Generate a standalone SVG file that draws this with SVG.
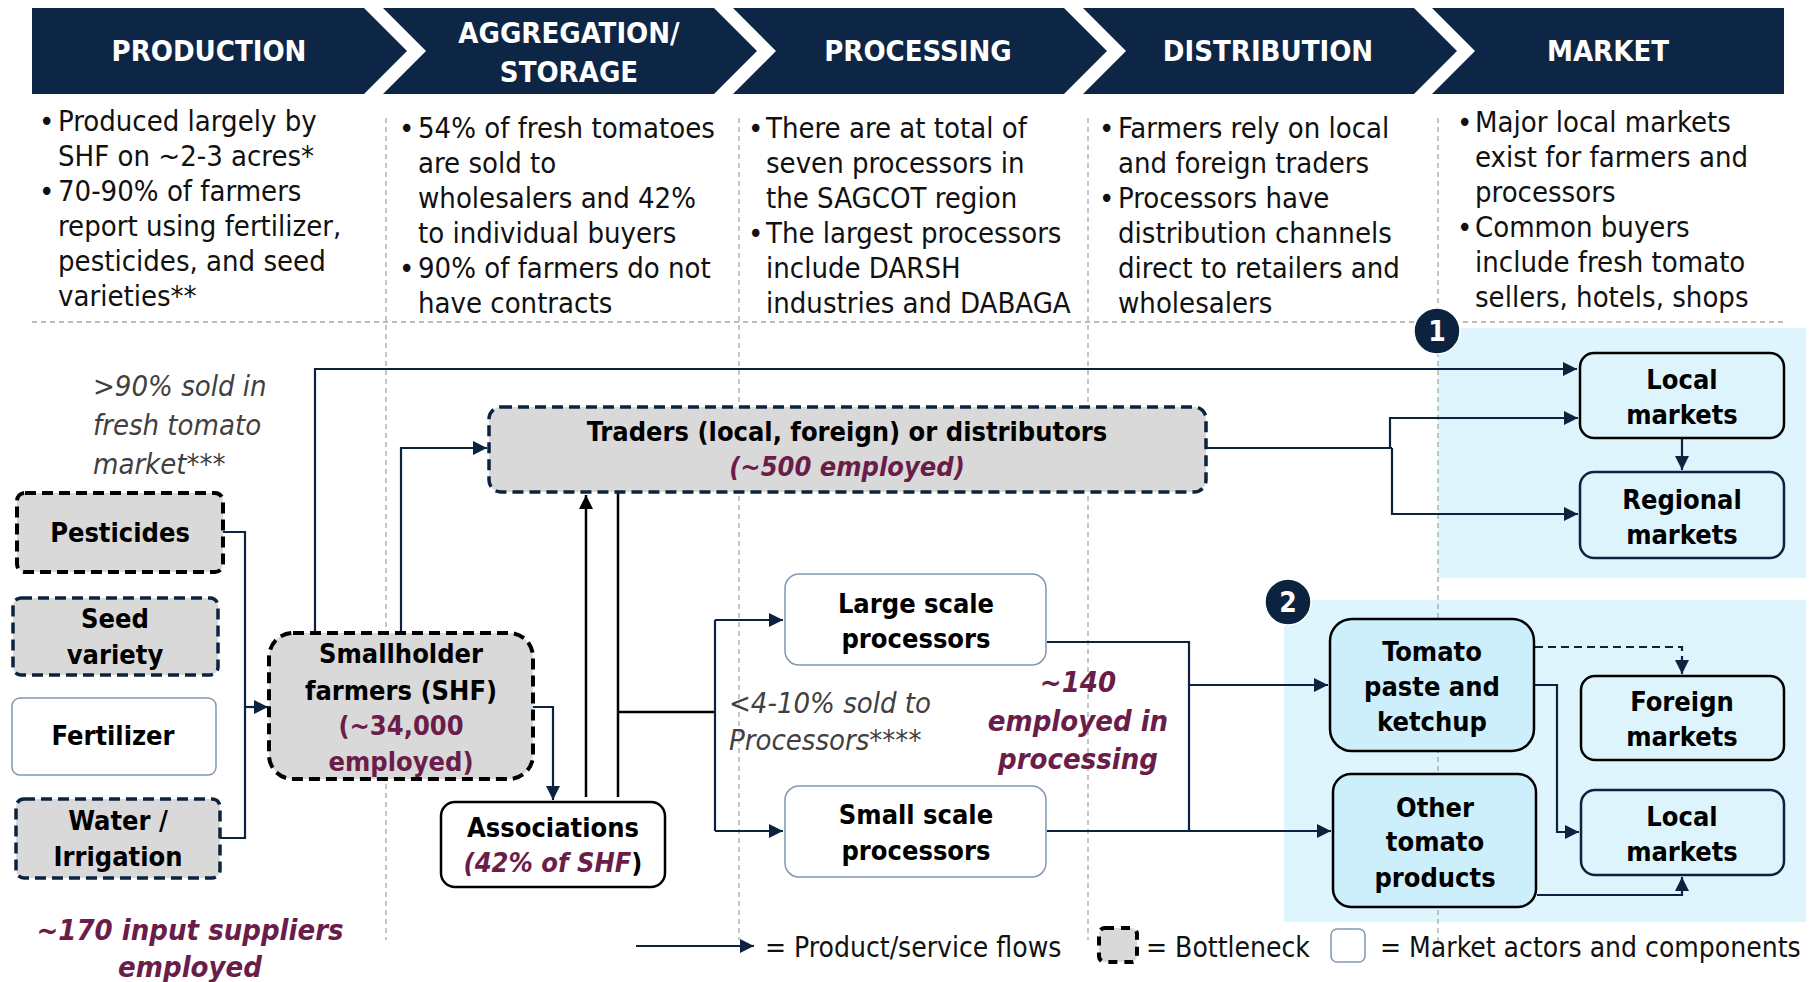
<svg xmlns="http://www.w3.org/2000/svg" width="1820" height="982" viewBox="0 0 1820 982">
<defs>
<style>
text{font-family:'DejaVu Sans Condensed','Liberation Sans',sans-serif;}
.hd{fill:#0e2645;}
.ht{fill:#fff;font-weight:bold;font-size:29px;text-anchor:middle;}
.bt{fill:#111;font-size:29px;}
.lg{fill:#111;font-size:28px;}
.sep{stroke:#a6a6a6;stroke-width:1.3;stroke-dasharray:5 4;fill:none;}
.lbl{fill:#000;font-weight:bold;font-size:27px;text-anchor:middle;}
.mar{fill:#6b1d4a;}
.note{fill:#404040;font-style:italic;font-size:29px;}
.mnote{fill:#6b1d4a;font-style:italic;font-weight:bold;font-size:29px;text-anchor:middle;}
.bneck{fill:#d9d9d9;stroke:#000;stroke-width:4;stroke-dasharray:11 6;}
.ndash{fill:#d9d9d9;stroke:#0c2340;stroke-width:3.5;stroke-dasharray:11 6;}
.thin{fill:#fff;stroke:#8497b0;stroke-width:1.5;}
.mk{fill:#ddf4fd;stroke:#000;stroke-width:2.5;}
.mkn{fill:#ddf4fd;stroke:#0c2340;stroke-width:2.5;}
.mkd{fill:#cdeefb;stroke:#000;stroke-width:2.5;}
.c{fill:none;stroke:#0c2340;stroke-width:2.2;}
.cb{fill:none;stroke:#000;stroke-width:2.5;}
.region{fill:#def5fd;}
.num{fill:#0c2340;stroke:#fff;stroke-width:1.5;}
.numt{fill:#fff;font-weight:bold;font-size:28px;text-anchor:middle;}
</style>
<marker id="ar" viewBox="0 0 10 10" refX="10" refY="5" markerUnits="userSpaceOnUse" markerWidth="15" markerHeight="14" orient="auto"><path d="M0,0 L10,5 L0,10 z" fill="#0c2340"/></marker>
<marker id="arb" viewBox="0 0 10 10" refX="10" refY="5" markerUnits="userSpaceOnUse" markerWidth="15" markerHeight="14" orient="auto"><path d="M0,0 L10,5 L0,10 z" fill="#000"/></marker>
</defs>
<rect width="1820" height="982" fill="#fff"/>

<!-- Regions -->
<rect class="region" x="1438" y="328" width="368" height="250"/>
<rect class="region" x="1284" y="600" width="522" height="322"/>

<!-- Header chevrons -->
<g id="header">
<path class="hd" d="M32,8 H364 L407,51 L364,94 H32 Z"/>
<path class="hd" d="M383,8 H714 L757,51 L714,94 H383 L426,51 Z"/>
<path class="hd" d="M733,8 H1064 L1107,51 L1064,94 H733 L776,51 Z"/>
<path class="hd" d="M1083,8 H1414 L1457,51 L1414,94 H1083 L1126,51 Z"/>
<path class="hd" d="M1432,8 H1784 V94 H1432 L1475,51 Z"/>
<text class="ht" x="209" y="61">PRODUCTION</text>
<text class="ht" x="569" y="43">AGGREGATION/</text>
<text class="ht" x="569" y="82">STORAGE</text>
<text class="ht" x="918" y="61">PROCESSING</text>
<text class="ht" x="1268" y="61">DISTRIBUTION</text>
<text class="ht" x="1608" y="61">MARKET</text>
</g>

<!-- Separators -->
<g id="separators">
<line class="sep" x1="32" y1="322" x2="1786" y2="322"/>
<line class="sep" x1="386" y1="118" x2="386" y2="940"/>
<line class="sep" x1="739" y1="118" x2="739" y2="940"/>
<line class="sep" x1="1088" y1="118" x2="1088" y2="940"/>
<line class="sep" x1="1438" y1="118" x2="1438" y2="955"/>
</g>

<!-- Column texts -->
<g id="col-production" class="bt">
<text x="39" y="131">•</text><text x="58" y="131">Produced largely by</text>
<text x="58" y="166">SHF on ~2-3 acres*</text>
<text x="39" y="201">•</text><text x="58" y="201">70-90% of farmers</text>
<text x="58" y="236">report using fertilizer,</text>
<text x="58" y="271">pesticides, and seed</text>
<text x="58" y="306">varieties**</text>
</g>
<g id="col-aggregation" class="bt">
<text x="399" y="138">•</text><text x="418" y="138">54% of fresh tomatoes</text>
<text x="418" y="173">are sold to</text>
<text x="418" y="208">wholesalers and 42%</text>
<text x="418" y="243">to individual buyers</text>
<text x="399" y="278">•</text><text x="418" y="278">90% of farmers do not</text>
<text x="418" y="313">have contracts</text>
</g>
<g id="col-processing" class="bt">
<text x="748" y="138">•</text><text x="766" y="138">There are at total of</text>
<text x="766" y="173">seven processors in</text>
<text x="766" y="208">the SAGCOT region</text>
<text x="748" y="243">•</text><text x="766" y="243">The largest processors</text>
<text x="766" y="278">include DARSH</text>
<text x="766" y="313">industries and DABAGA</text>
</g>
<g id="col-distribution" class="bt">
<text x="1099" y="138">•</text><text x="1118" y="138">Farmers rely on local</text>
<text x="1118" y="173">and foreign traders</text>
<text x="1099" y="208">•</text><text x="1118" y="208">Processors have</text>
<text x="1118" y="243">distribution channels</text>
<text x="1118" y="278">direct to retailers and</text>
<text x="1118" y="313">wholesalers</text>
</g>
<g id="col-market" class="bt">
<text x="1457" y="132">•</text><text x="1475" y="132">Major local markets</text>
<text x="1475" y="167">exist for farmers and</text>
<text x="1475" y="202">processors</text>
<text x="1457" y="237">•</text><text x="1475" y="237">Common buyers</text>
<text x="1475" y="272">include fresh tomato</text>
<text x="1475" y="307">sellers, hotels, shops</text>
</g>

<!-- Connectors -->
<g id="connectors">
<path class="c" d="M315,633 V369 H1577" marker-end="url(#ar)"/>
<path class="c" d="M401,633 V448 H487" marker-end="url(#ar)"/>
<path class="c" d="M223,532 H245 V838 H220"/>
<path class="c" d="M245,707 H268" marker-end="url(#ar)"/>
<path class="c" d="M533,707 H553 V800" marker-end="url(#ar)"/>
<path class="cb" d="M586,797 V495" marker-end="url(#arb)"/>
<path class="cb" d="M618,493 V797 M618,712 H715"/>
<path class="c" d="M715,620 V831"/>
<path class="c" d="M715,620 H783" marker-end="url(#ar)"/>
<path class="c" d="M715,831 H783" marker-end="url(#ar)"/>
<path class="c" d="M1206,448 H1392"/>
<path class="c" d="M1390,448 V418 H1578" marker-end="url(#ar)"/>
<path class="c" d="M1392,448 V514 H1578" marker-end="url(#ar)"/>
<path class="c" d="M1682,439 V470" marker-end="url(#ar)"/>
<path class="c" d="M1047,642 H1189 V831"/>
<path class="c" d="M1047,831 H1331" marker-end="url(#ar)"/>
<path class="c" d="M1189,685 H1328" marker-end="url(#ar)"/>
<path class="c" d="M1535,647 H1682 V674" stroke-dasharray="8 5" marker-end="url(#ar)"/>
<path class="c" d="M1535,685 H1557 V832 H1579" marker-end="url(#ar)"/>
<path class="c" d="M1537,895 H1682 V877" marker-end="url(#ar)"/>
</g>

<!-- Nodes -->
<g id="pesticides"><rect class="bneck" x="17" y="493" width="206" height="79" rx="8"/><text class="lbl" x="120" y="542">Pesticides</text></g>
<g id="seed"><rect class="ndash" x="13" y="598" width="205" height="77" rx="8"/><text class="lbl" x="115" y="628">Seed</text><text class="lbl" x="115" y="664">variety</text></g>
<g id="fertilizer"><rect class="thin" x="12" y="698" width="204" height="77" rx="8"/><text class="lbl" x="113" y="745">Fertilizer</text></g>
<g id="water"><rect class="ndash" x="16" y="799" width="204" height="79" rx="8"/><text class="lbl" x="118" y="830">Water /</text><text class="lbl" x="118" y="866">Irrigation</text></g>
<g id="shf"><rect class="bneck" x="269" y="633" width="264" height="146" rx="24"/>
<text class="lbl" x="401" y="663">Smallholder</text><text class="lbl" x="401" y="700">farmers (SHF)</text>
<text class="lbl mar" x="401" y="735">(~34,000</text><text class="lbl mar" x="401" y="771">employed)</text></g>
<g id="traders"><rect class="ndash" x="489" y="407" width="717" height="85" rx="12"/>
<text class="lbl" x="847" y="441">Traders (local, foreign) or distributors</text>
<text class="lbl mar" x="847" y="476" font-style="italic">(~500 employed)</text></g>
<g id="associations"><rect x="441" y="802" width="224" height="85" rx="14" fill="#fff" stroke="#000" stroke-width="2.5"/>
<text class="lbl" x="553" y="837">Associations</text>
<text class="lbl" x="553" y="872"><tspan class="mar" font-style="italic">(42% of SHF</tspan>)</text></g>
<g id="large"><rect class="thin" x="785" y="574" width="261" height="91" rx="14"/><text class="lbl" x="916" y="613">Large scale</text><text class="lbl" x="916" y="648">processors</text></g>
<g id="small"><rect class="thin" x="785" y="786" width="261" height="91" rx="14"/><text class="lbl" x="916" y="824">Small scale</text><text class="lbl" x="916" y="860">processors</text></g>
<g id="local1"><rect class="mk" x="1580" y="353" width="204" height="85" rx="14"/><text class="lbl" x="1682" y="389">Local</text><text class="lbl" x="1682" y="424">markets</text></g>
<g id="regional"><rect class="mkn" x="1580" y="472" width="204" height="86" rx="14"/><text class="lbl" x="1682" y="509">Regional</text><text class="lbl" x="1682" y="544">markets</text></g>
<g id="paste"><rect class="mkd" x="1330" y="619" width="204" height="132" rx="22"/><text class="lbl" x="1432" y="661">Tomato</text><text class="lbl" x="1432" y="696">paste and</text><text class="lbl" x="1432" y="731">ketchup</text></g>
<g id="foreign"><rect class="mk" x="1581" y="676" width="203" height="84" rx="14"/><text class="lbl" x="1682" y="711">Foreign</text><text class="lbl" x="1682" y="746">markets</text></g>
<g id="other"><rect class="mkd" x="1333" y="774" width="203" height="133" rx="18"/><text class="lbl" x="1435" y="817">Other</text><text class="lbl" x="1435" y="851">tomato</text><text class="lbl" x="1435" y="887">products</text></g>
<g id="local2"><rect class="mkn" x="1581" y="790" width="203" height="85" rx="14"/><text class="lbl" x="1682" y="826">Local</text><text class="lbl" x="1682" y="861">markets</text></g>

<!-- Number badges -->
<g id="badge1"><circle class="num" cx="1437" cy="331" r="23"/><text class="numt" x="1437" y="341">1</text></g>
<g id="badge2"><circle class="num" cx="1288" cy="602" r="23"/><text class="numt" x="1288" y="612">2</text></g>

<!-- Annotations -->
<g id="notes">
<text class="note" x="93" y="396">&gt;90% sold in</text>
<text class="note" x="93" y="435">fresh tomato</text>
<text class="note" x="93" y="474">market***</text>
<text class="note" x="729" y="713">&lt;4-10% sold to</text>
<text class="note" x="729" y="750">Processors****</text>
<text class="mnote" x="1078" y="692">~140</text>
<text class="mnote" x="1078" y="731">employed in</text>
<text class="mnote" x="1078" y="769">processing</text>
<text class="mnote" x="190" y="940">~170 input suppliers</text>
<text class="mnote" x="190" y="977">employed</text>
</g>

<!-- Legend -->
<g id="legend">
<path class="c" d="M636,946 H754" marker-end="url(#ar)"/>
<text class="lg" x="765" y="957">= Product/service flows</text>
<rect x="1099" y="928" width="38" height="34" rx="6" fill="#d9d9d9" stroke="#000" stroke-width="4" stroke-dasharray="9 7"/>
<text class="lg" x="1146" y="957">= Bottleneck</text>
<rect x="1331" y="929" width="34" height="33" rx="6" fill="#fff" stroke="#8497b0" stroke-width="1.5"/>
<text class="lg" x="1380" y="957">= Market actors and components</text>
</g>
</svg>
